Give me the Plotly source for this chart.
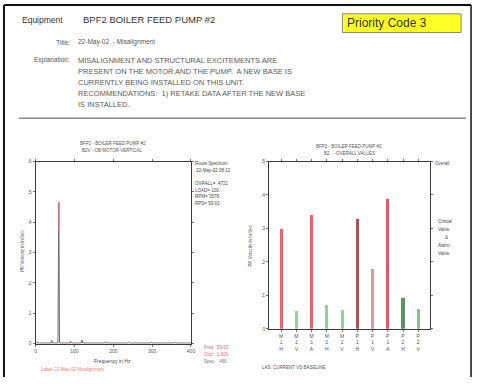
import plotly.graph_objects as go

W, H = 478, 387
def px(x): return x / W
def py(y): return 1 - y / H

FONT = "Arial, Liberation Sans, sans-serif"

# ---------------- data ----------------
# left: route spectrum (Hz, in/sec)
spec_freq = [0, 10, 40, 41.5, 43, 57.5, 59.6, 61.5, 88, 90, 92, 117, 119.2, 121, 178, 180, 182, 236, 238.5, 241, 296, 298, 300, 356, 358, 360, 400]
spec_amp  = [0.003, 0.002, 0.002, 0.010, 0.002, 0.002, 0.466, 0.002, 0.002, 0.008, 0.002, 0.002, 0.012, 0.002, 0.002, 0.006, 0.002, 0.002, 0.005, 0.002, 0.002, 0.005, 0.002, 0.002, 0.005, 0.002, 0.002]
cursor_freq = 59.6
cursor_amp = 0.466
left_yticks = [0, 0.1, 0.2, 0.3, 0.4, 0.5, 0.6]
left_yticktext = ["0", ".1", ".2", ".3", ".4", ".5", ".6"]
left_xticks = [0, 100, 200, 300, 400]

# right: overall values per measurement point
points = ["M1H", "M1V", "M1A", "M2H", "M2V", "P1H", "P1V", "P1A", "P2H", "P2V"]
overall = [0.299, 0.054, 0.340, 0.071, 0.057, 0.328, 0.178, 0.388, 0.092, 0.059]
bar_colors = ["#e8646e", "#92d29c", "#e8646e", "#92d29c", "#92d29c",
              "#a85058", "#dc98a0", "#e05a64", "#5a9462", "#80c48c"]
right_yticks = [0, 0.1, 0.2, 0.3, 0.4, 0.5]
right_yticktext = ["0", ".1", ".2", ".3", ".4", ".5"]

explanation = [
    "MISALIGNMENT AND STRUCTURAL EXCITEMENTS ARE",
    "PRESENT ON THE MOTOR AND THE PUMP.  A NEW BASE IS",
    "CURRENTLY BEING INSTALLED ON THIS UNIT.",
    "RECOMMENDATIONS:  1) RETAKE DATA AFTER THE NEW BASE",
    "IS INSTALLED.",
]

fig = go.Figure()

# spectrum
fig.add_trace(go.Scatter(x=spec_freq, y=spec_amp, mode="lines",
                         line=dict(color="#6a6a6a", width=1),
                         xaxis="x", yaxis="y", showlegend=False, hoverinfo="skip"))
fig.add_trace(go.Scatter(x=[cursor_freq, cursor_freq], y=[cursor_amp * 0.8, cursor_amp],
                         mode="lines", line=dict(color="#e86a70", width=1),
                         xaxis="x", yaxis="y", showlegend=False, hoverinfo="skip"))

# bars
fig.add_trace(go.Bar(x=list(range(len(points))), y=overall, width=0.2,
                     marker=dict(color=bar_colors, line=dict(width=0)),
                     xaxis="x2", yaxis="y2", showlegend=False, hoverinfo="skip"))

axis_common = dict(showline=True, linecolor="#3a3a3a", linewidth=1, mirror="ticks",
                   ticks="outside", ticklen=2, tickcolor="#777", showgrid=False,
                   zeroline=False, tickfont=dict(family=FONT, size=5, color="#555"))

fig.update_layout(
    width=W, height=H,
    margin=dict(l=0, r=0, t=0, b=0),
    paper_bgcolor="white", plot_bgcolor="white",
    hovermode=False,
    xaxis=dict(domain=[px(35), px(192)], anchor="y", range=[0, 400],
               tickvals=left_xticks, **axis_common),
    yaxis=dict(domain=[py(346), py(161)], anchor="x", range=[0, 0.6],
               tickvals=left_yticks, ticktext=left_yticktext, **axis_common),
    xaxis2=dict(domain=[px(271), px(434)], anchor="y2", range=[-0.78, 9.8],
                tickvals=list(range(len(points))),
                ticktext=["<br>".join(list(p)) for p in points], **axis_common),
    yaxis2=dict(domain=[py(331), py(161)], anchor="x2", range=[0, 0.5],
                tickvals=right_yticks, ticktext=right_yticktext, **axis_common),
    bargap=0,
)

ann = []
def text(x, y, t, size=6, color="#444", xanchor="left", angle=0, yanchor="middle"):
    ann.append(dict(x=px(x), y=py(y), xref="paper", yref="paper", text=t, showarrow=False,
                    xanchor=xanchor, yanchor=yanchor, textangle=angle,
                    font=dict(family=FONT, size=size, color=color)))

# header
text(19, 17, "Equipment", size=8.5, color="#333")
text(81, 17, "BPF2 BOILER FEED PUMP #2", size=9.5, color="#333")
text(72, 40, "Title:", size=6.5, color="#555", xanchor="right")
text(76, 40, "22-May-02  - Misalignment", size=6.5, color="#555")
text(72, 58, "Explanation:", size=6.5, color="#555", xanchor="right")
for i, line in enumerate(explanation):
    text(76, 58 + i * 11.3, line, size=7.5, color="#5a5a5a")

# left chart annotations
text(113, 143, "BFP2 - BOILER FEED PUMP #2", size=4.5, color="#555", xanchor="center")
text(113, 150, "B2V  -OB MOTOR VERTICAL", size=4.5, color="#555", xanchor="center")
text(21, 252, "PK Velocity in In/Sec", size=4.5, color="#555", xanchor="center", angle=-90)
text(113, 364, "Frequency in Hz", size=5, color="#444", xanchor="center")
text(38, 372, "Label: 22-May-02 Misalignment", size=4.5, color="#e8806a")
for i, line in enumerate(["Route Spectrum", " 22-May-02 08:12"]):
    text(194, 163 + i * 7, line, size=4.5, color="#444")
for i, line in enumerate(["OVRALL= .4721", "LOAD= 100.", "RPM= 3578.", "RPS= 59.63"]):
    text(194, 183 + i * 7, line, size=4.5, color="#444")
for i, (line, c) in enumerate([("Freq:  59.63", "#e06a72"), ("Ordr:  1.000", "#e06a72"), ("Spec:  .466", "#777")]):
    text(203, 350 + i * 7, line, size=4.5, color=c)

# right chart annotations
text(352, 146, "BFP2 - BOILER FEED PUMP #2", size=4.5, color="#555", xanchor="center")
text(352, 153, "B2    -OVERALL VALUES", size=4.5, color="#555", xanchor="center")
text(252, 246, "PK Velocity in In/Sec", size=4.5, color="#555", xanchor="center", angle=-90)
text(437, 163, "Overall", size=4.5, color="#444")
for i, line in enumerate(["Critical", "Value", "&", "Alarm", "Value"]):
    text(440 if line != "&" else 447, 222 + i * 8, line, size=4.5, color="#444")
text(262, 370, "LAS: CURRENT VS BASELINE", size=4.5, color="#555")

# priority box label
text(348, 20.5, "Priority Code 3", size=12, color="#333")

shapes = [
    # page border (left, top, right)
    dict(type="line", xref="paper", yref="paper", x0=px(3), x1=px(3), y0=py(380), y1=py(2),
         line=dict(color="#111", width=2)),
    dict(type="line", xref="paper", yref="paper", x0=px(3), x1=px(475), y0=py(2), y1=py(2),
         line=dict(color="#111", width=2)),
    dict(type="line", xref="paper", yref="paper", x0=px(475), x1=px(475), y0=py(380), y1=py(2),
         line=dict(color="#111", width=1.5)),
    # priority box
    dict(type="rect", xref="paper", yref="paper", x0=px(345), x1=px(465), y0=py(30), y1=py(11),
         fillcolor="#ffff22", line=dict(color="#888", width=1), layer="below"),
    # rule
    dict(type="line", xref="paper", yref="paper", x0=px(18), x1=px(470), y0=py(117), y1=py(117),
         line=dict(color="#555", width=1)),
]

fig.update_layout(annotations=ann, shapes=shapes)
fig.write_html("out.html", config={"displayModeBar": False, "staticPlot": True},
               post_script="document.body.style.margin='0';document.body.style.overflow='hidden';")
